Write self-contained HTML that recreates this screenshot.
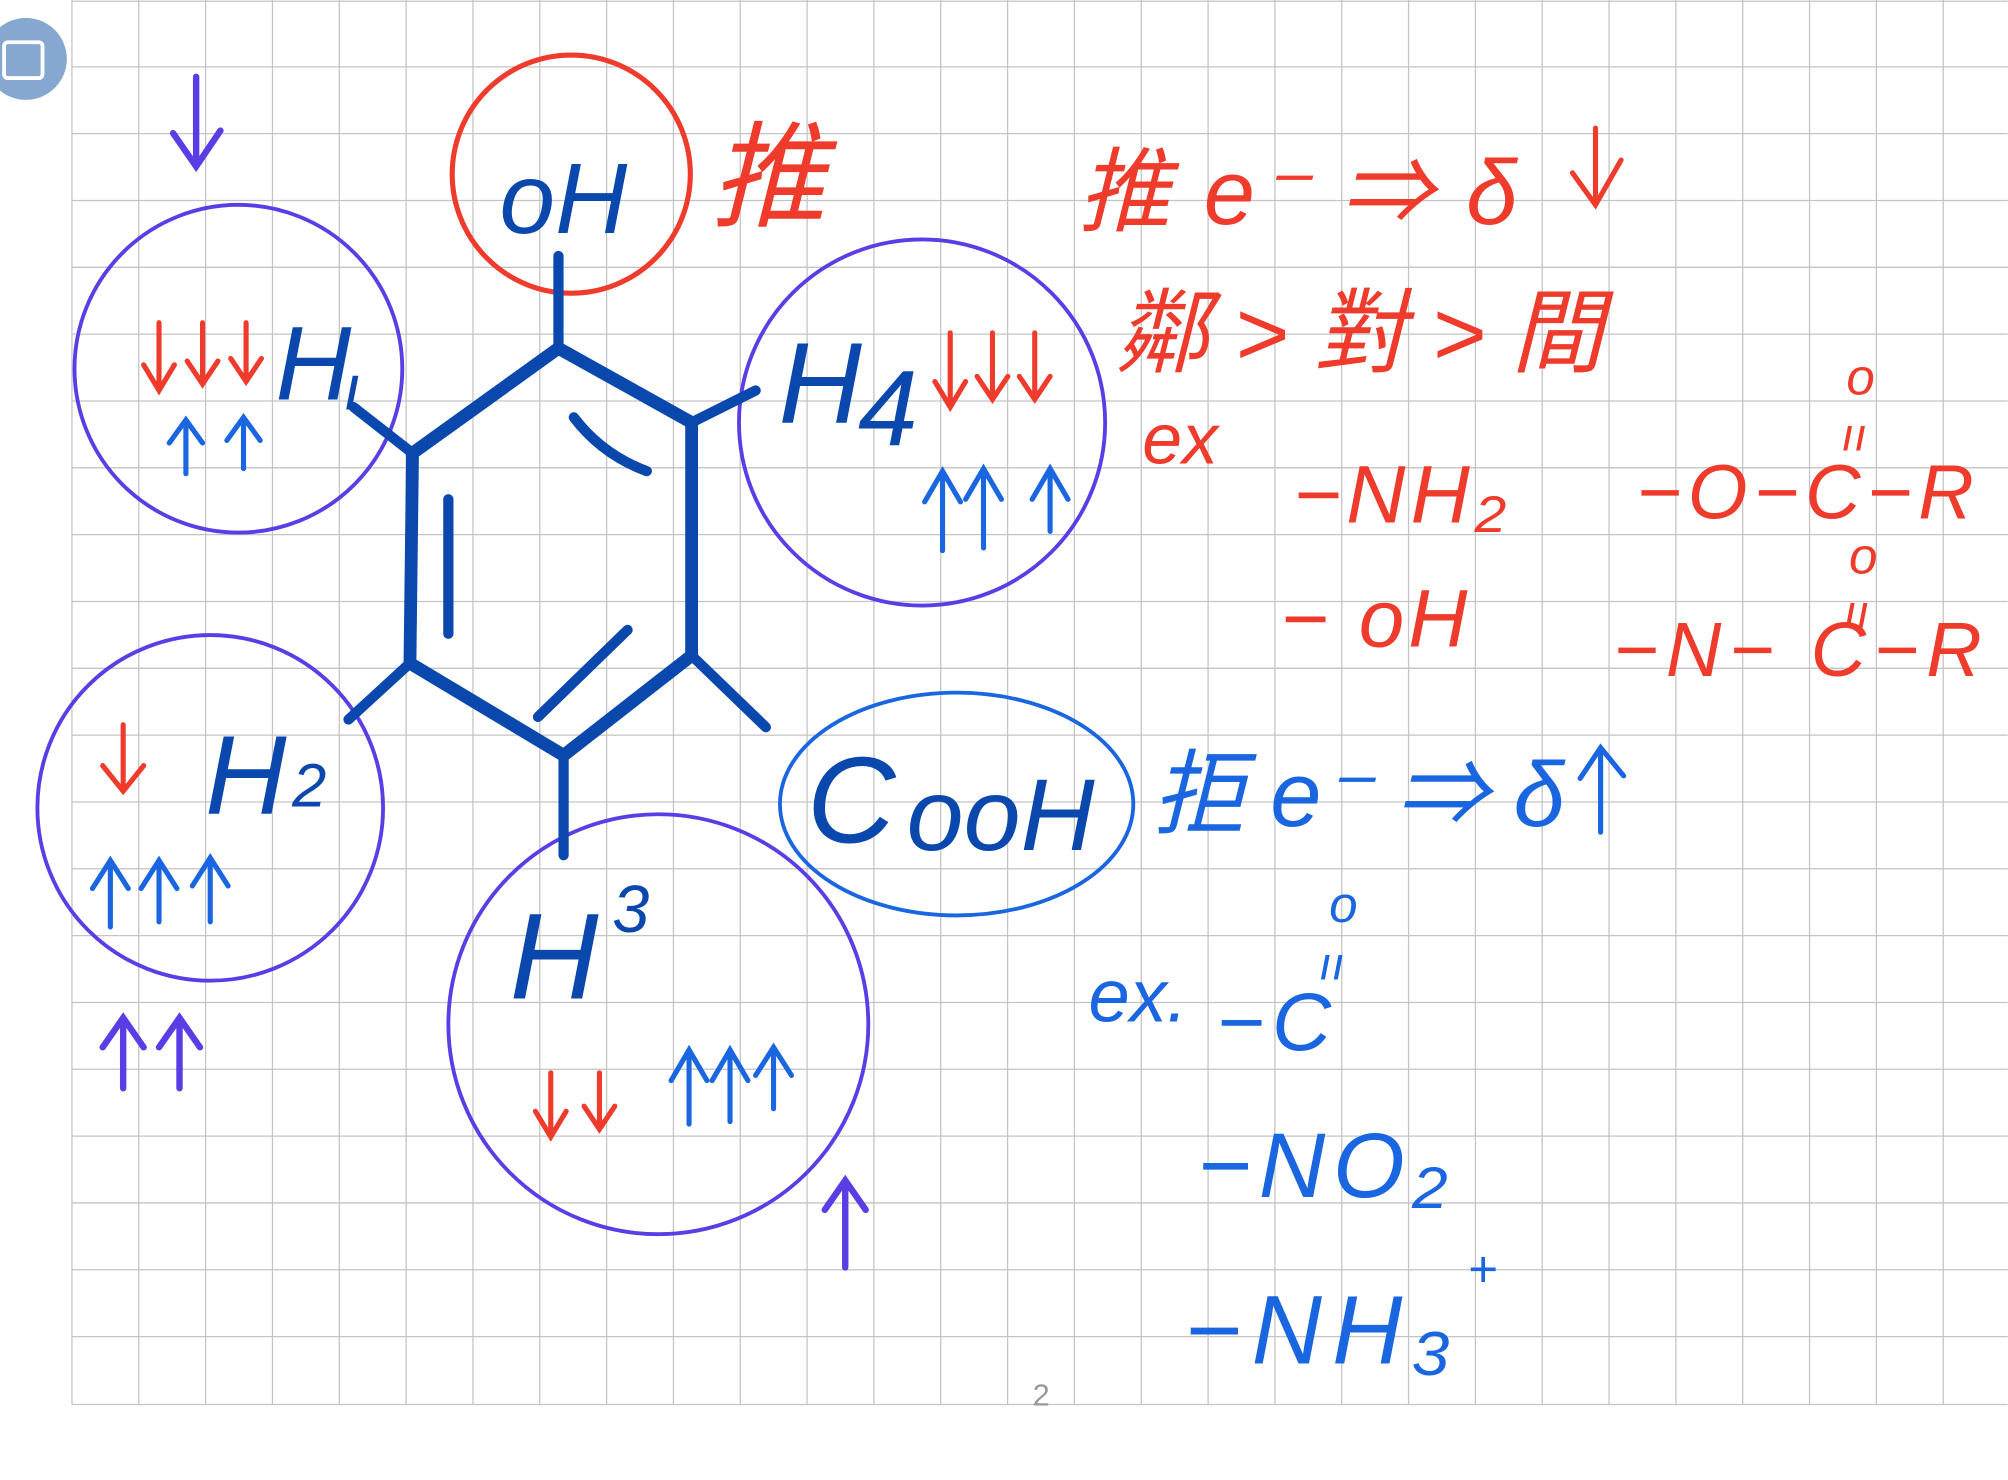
<!DOCTYPE html>
<html><head><meta charset="utf-8"><style>
html,body{margin:0;padding:0;background:#fff;}
svg{display:block;}
text{font-family:"Liberation Sans","Noto Sans CJK TC",sans-serif;}
</style></head><body>
<svg width="2008" height="1480" viewBox="0 0 1568 1156" xmlns="http://www.w3.org/2000/svg">
<rect width="1568" height="1156" fill="#fff"/>
<g stroke="#c4c4c4" stroke-width="1">
<path d="M56 0V1097M108.2 0V1097M160.4 0V1097M212.6 0V1097M264.8 0V1097M317 0V1097M369.2 0V1097M421.4 0V1097M473.6 0V1097M525.8 0V1097M578 0V1097M630.2 0V1097M682.4 0V1097M734.6 0V1097M786.8 0V1097M839 0V1097M891.2 0V1097M943.4 0V1097M995.6 0V1097M1047.8 0V1097M1100 0V1097M1152.2 0V1097M1204.4 0V1097M1256.6 0V1097M1308.8 0V1097M1361 0V1097M1413.2 0V1097M1465.4 0V1097M1517.6 0V1097"/>
<path d="M56 1H1568M56 52.2H1568M56 104.4H1568M56 156.6H1568M56 208.8H1568M56 261H1568M56 313.2H1568M56 365.4H1568M56 417.6H1568M56 469.8H1568M56 522H1568M56 574.2H1568M56 626.4H1568M56 678.6H1568M56 730.8H1568M56 783H1568M56 835.2H1568M56 887.4H1568M56 939.6H1568M56 991.8H1568M56 1044H1568M56 1097H1568"/>
</g>
<circle cx="20" cy="46" r="32" fill="#86a8d0"/>
<rect x="3" y="33" width="30" height="28" rx="3" fill="none" stroke="#fff" stroke-width="3"/>
<text x="813" y="1098" font-size="24" fill="#999" text-anchor="middle">2</text>
<g fill="none" stroke="#5b3de6" stroke-width="3">
<circle cx="186" cy="288" r="128"/>
<circle cx="720" cy="330" r="143"/>
<circle cx="164" cy="631" r="135"/>
<circle cx="514" cy="800" r="164"/>
</g>
<circle cx="446" cy="136" r="93" fill="none" stroke="#ef3b2c" stroke-width="4"/>
<ellipse cx="747" cy="628" rx="138" ry="87" fill="none" stroke="#1a66e0" stroke-width="3"/>
<g fill="none" stroke="#0b48ad" stroke-linecap="round" stroke-width="8">
<path d="M436 272L540 330L540 512L440 590L320 518L322 354Z" stroke-width="10"/>
<path d="M436 272V200M540 330L590 305M540 512L598 568M440 590V668M320 518L272 562M322 354L276 318"/>
<path d="M448 326Q470 355 505 368M350 390V495M420 560L490 492"/>
</g>
<g fill="#5b3de6" stroke="#5b3de6" stroke-width="5" fill-opacity="0" stroke-linecap="round">
<path d="M153 60V130M135 104L153 130L172 102"/>
<path d="M96 850V795M80 818L96 795L112 818M140 850V795M124 818L140 795L156 818"/>
<path d="M660 990V922M644 945L660 922L676 945"/>
</g>
<g fill="none" stroke="#ef3b2c" stroke-width="4" stroke-linecap="round">
<path d="M124 252V305M112 285L124 305L136 285M158 252V300M146 282L158 300L170 282M192 252V298M180 280L192 298L204 280"/>
<path d="M742 260V318M730 298L742 318L754 298M775 260V312M763 294L775 312L787 294M808 260V312M796 294L808 312L820 294"/>
<path d="M96 566V618M80 598L96 618L112 598"/>
<path d="M430 838V888M418 868L430 888L442 868M468 838V882M456 864L468 882L480 864"/>
<path d="M1246 100V160M1228 135L1246 160L1266 125"/>
</g>
<g fill="none" stroke="#1a66e0" stroke-width="4" stroke-linecap="round">
<path d="M145 370V328M132 346L145 328L158 346M190 366V326M177 344L190 326L203 344"/>
<path d="M736 430V368M722 392L736 368L750 392M768 428V366M754 390L768 366L782 390M820 415V366M806 390L820 366L834 390"/>
<path d="M86 724V672M72 694L86 672L100 694M124 720V672M110 694L124 672L138 694M164 720V670M150 692L164 670L178 692"/>
<path d="M538 878V820M524 844L538 820L552 844M570 876V820M556 844L570 820L584 844M604 866V818M590 840L604 818L618 840"/>
<path d="M1250 650V584M1234 608L1250 584L1268 606"/>
</g>
<g fill="#0b48ad" font-style="italic">
<text x="390" y="182" font-size="78">oH</text>
<text x="215" y="312" font-size="82">H</text><text x="268" y="320" font-size="50">ı</text>
<text x="608" y="330" font-size="90">H</text><text x="670" y="348" font-size="84">4</text>
<text x="160" y="636" font-size="88">H</text><text x="228" y="630" font-size="48">2</text>
<text x="398" y="780" font-size="96">H</text><text x="478" y="728" font-size="52">3</text>
<text x="630" y="658" font-size="96">C</text><text x="708" y="664" font-size="80">ooH</text>
</g>
<g fill="#ef3b2c" font-style="italic">
<text x="555" y="170" font-size="90">推</text>
<text x="842" y="175" font-size="72" letter-spacing="3">推 e⁻ ⇒ δ</text>
<text x="872" y="285" font-size="72">鄰 &gt; 對 &gt; 間</text>
<text x="892" y="362" font-size="56">ex</text>
<text x="1010" y="408" font-size="64" letter-spacing="4">−NH₂</text>
<text x="1000" y="505" font-size="64" letter-spacing="3">− oH</text>
<text x="1278" y="405" font-size="60" letter-spacing="5">−O−C−R</text>
<text x="1442" y="308" font-size="40">o</text><text x="1438" y="352" font-size="36">ıı</text>
<text x="1260" y="528" font-size="60" letter-spacing="6">−N− C−R</text>
<text x="1444" y="448" font-size="40">o</text><text x="1440" y="490" font-size="36">ıı</text>
</g>
<g fill="#1a66e0" font-style="italic">
<text x="900" y="645" font-size="72" letter-spacing="0">拒 e⁻ ⇒ δ</text>
<text x="850" y="798" font-size="58">ex.</text>
<text x="950" y="820" font-size="64" letter-spacing="6">−C</text>
<text x="1038" y="720" font-size="40">o</text><text x="1030" y="765" font-size="36">ıı</text>
<text x="935" y="935" font-size="72" letter-spacing="6">−NO₂</text>
<text x="925" y="1065" font-size="76" letter-spacing="8">−NH₃</text><text x="1146" y="1005" font-size="40">+</text>
</g>
</svg>
</body></html>
